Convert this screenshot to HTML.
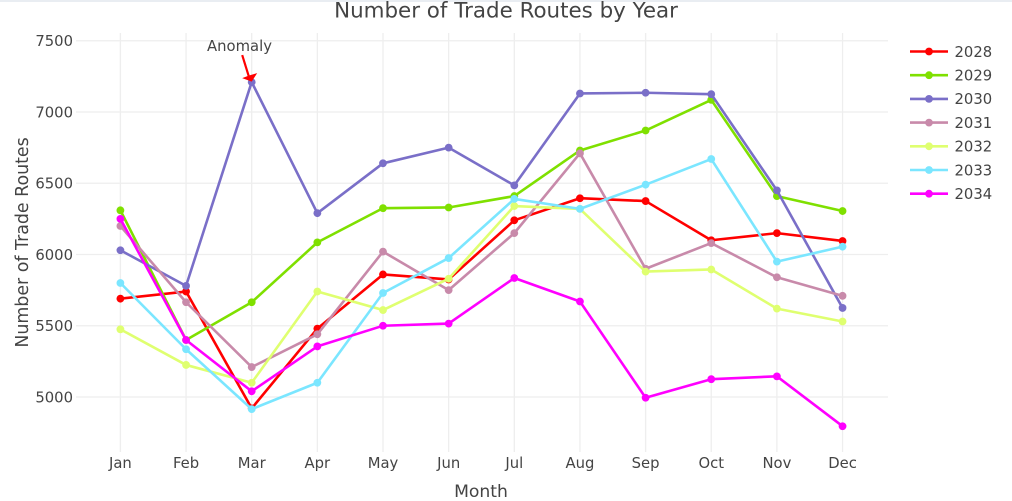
<!DOCTYPE html>
<html lang="en">
<head>
<meta charset="utf-8">
<title>Number of Trade Routes by Year</title>
<style>
html,body{margin:0;padding:0;background:#fff;width:1012px;height:501px;overflow:hidden}
svg{display:block;position:absolute;left:0;top:0}
text{font-family:"DejaVu Sans","Liberation Sans",sans-serif;fill:#444}
</style>
</head>
<body>
<svg id="chart" width="1012" height="501" viewBox="0 0 1012 501" xmlns="http://www.w3.org/2000/svg">
  <rect x="0" y="0" width="1012" height="2" fill="#e9edf2"/>
  <g id="grid"></g>
  <g id="series"></g>
  <g id="xticks"></g>
  <g id="yticks"></g>
  <g id="legend"></g>
  <text x="506" y="17.5" text-anchor="middle" font-size="21.4" style="fill:#444">Number of Trade Routes by Year</text>
  <text x="481" y="497" text-anchor="middle" font-size="17.2">Month</text>
  <text transform="translate(28,242.5) rotate(-90)" text-anchor="middle" font-size="17.4">Number of Trade Routes</text>
  <text x="239.5" y="51" text-anchor="middle" font-size="14.8">Anomaly</text>
  <g id="annotation"></g>
</svg>
<script>
const months = ["Jan","Feb","Mar","Apr","May","Jun","Jul","Aug","Sep","Oct","Nov","Dec"];
const yTicks = [5000,5500,6000,6500,7000,7500];
const seriesNames = ["2028","2029","2030","2031","2032","2033","2034"];
const seriesColors = ["#ff0000","#7fe000","#7a6fc8","#c88aaa","#dfff70","#7be6ff","#ff00ff"];
const values2028 = [5690,5740,4920,5480,5860,5825,6240,6395,6375,6100,6150,6095];
const values2029 = [6310,5400,5665,6085,6325,6330,6410,6730,6870,7085,6410,6305];
const values2030 = [6030,5780,7210,6290,6640,6750,6485,7130,7135,7125,6450,5625];
const values2031 = [6200,5665,5210,5440,6020,5750,6150,6710,5900,6080,5840,5710];
const values2032 = [5475,5225,5100,5740,5610,5830,6340,6320,5880,5895,5620,5530];
const values2033 = [5800,5335,4915,5100,5730,5975,6390,6320,6490,6670,5950,6055];
const values2034 = [6250,5400,5040,5355,5500,5515,5835,5670,4995,5125,5145,4795];
const allSeries = [values2028,values2029,values2030,values2031,values2032,values2033,values2034];
const anomalyMonth = "Mar";
const anomalyValue = 7210;

const NS = "http://www.w3.org/2000/svg";
function xScale(i){ return 120.4 + i * 65.65; }
function yScale(v){ return 397 - (v - 5000) * 0.1425; }
function make(tag, attrs, parent){
  const el = document.createElementNS(NS, tag);
  for (const k in attrs) el.setAttribute(k, attrs[k]);
  parent.appendChild(el);
  return el;
}
const grid = document.getElementById("grid");
const xG = document.getElementById("xticks");
const yG = document.getElementById("yticks");
const sG = document.getElementById("series");
const lG = document.getElementById("legend");
const aG = document.getElementById("annotation");

yTicks.forEach(function(v){
  const y = yScale(v);
  const line = make("line",{x1:76,x2:888,y1:y,y2:y,stroke:"#eeeeee","stroke-width":1.3},grid);
  
  
  const t = make("text",{x:73,y:y+5.3,"text-anchor":"end","font-size":14.8},yG);
  t.textContent = String(v);
  
  
});
months.forEach(function(m,i){
  const x = xScale(i);
  const line = make("line",{x1:x,x2:x,y1:33,y2:452,stroke:"#eeeeee","stroke-width":1.3},grid);
  
  
  const t = make("text",{x:x,y:468,"text-anchor":"middle","font-size":14.8},xG);
  t.textContent = m;
  
  
});
allSeries.forEach(function(vals,s){
  const g = make("g",{},sG);
  
  
  const pts = vals.map(function(v,i){ return xScale(i).toFixed(2)+","+yScale(v).toFixed(2); }).join(" ");
  const pl = make("polyline",{points:pts,fill:"none",stroke:seriesColors[s],"stroke-width":2.6,"stroke-linejoin":"round"},g);
  
  
  vals.forEach(function(v,i){
    const c = make("circle",{cx:xScale(i),cy:yScale(v),r:3.9,fill:seriesColors[s]},g);
    
    
  });
  const ly = 51.5 + s * 23.7;
  const ll = make("line",{x1:910,x2:948,y1:ly,y2:ly,stroke:seriesColors[s],"stroke-width":2.6},lG);
  
  
  const lc = make("circle",{cx:929,cy:ly,r:3.9,fill:seriesColors[s]},lG);
  
  
  const lt = make("text",{x:954.5,y:ly+5.3,"font-size":14.8},lG);
  lt.textContent = seriesNames[s];
  
  
});
const ax = xScale(months.indexOf(anomalyMonth));
const ay = yScale(anomalyValue);
const shaft = make("line",{x1:ax-9.5,y1:ay-27,x2:ax-3,y2:ay-6,stroke:"#ff0000","stroke-width":2.2},aG);


const headPoints = [[ax,ay-0.5],[ax-9.5,ay-4],[ax-3,ay-6.5],[ax+5.5,ay-9]];
const head = make("polygon",{points:headPoints.map(function(p){ return p.join(","); }).join(" "),fill:"#ff0000"},aG);


</script>
</body>
</html>
